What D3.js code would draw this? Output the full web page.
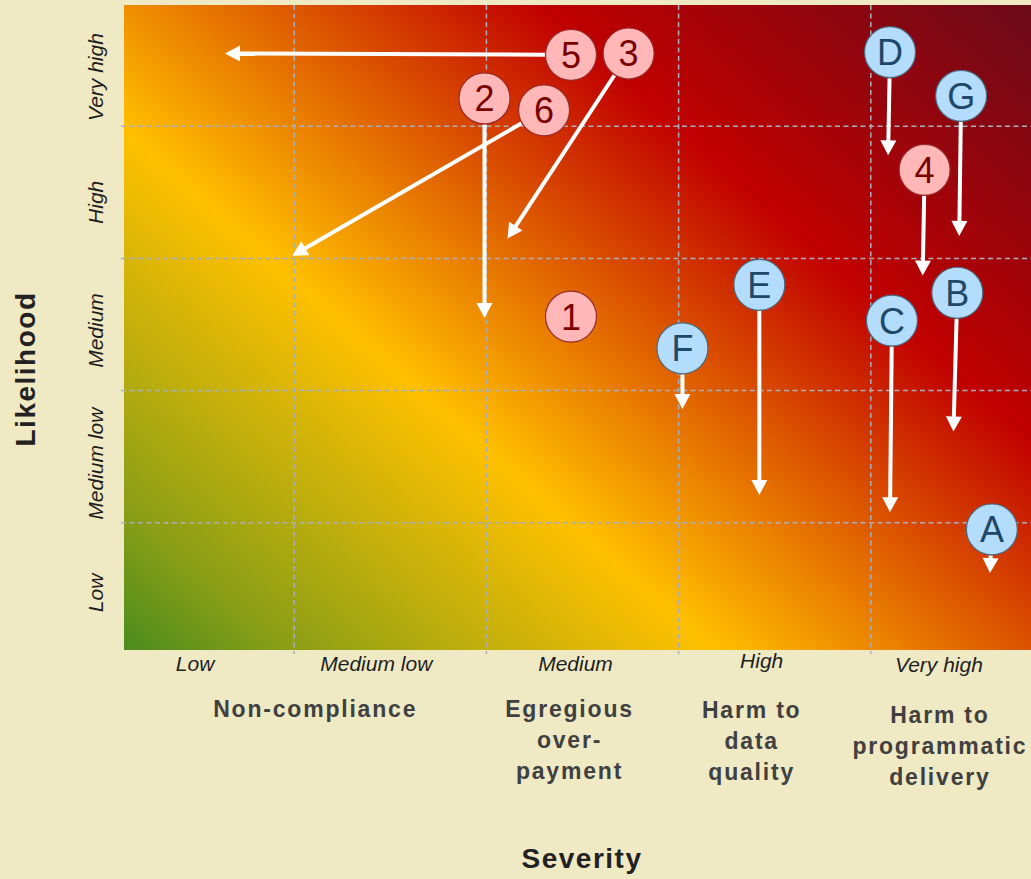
<!DOCTYPE html>
<html>
<head>
<meta charset="utf-8">
<script src="https://cdn.jsdelivr.net/npm/d3@7/dist/d3.min.js"></script>
<style>
  html, body { margin: 0; padding: 0; background: #efe9c4; }
  svg { display: block; }
  text { font-family: "Liberation Sans", Arial, Helvetica, sans-serif; }
</style>
</head>
<body>
<svg id="chart" width="1031" height="879"></svg>
<script>
// Rating levels on both axes
const severityLevels = ["Low", "Medium low", "Medium", "High", "Very high"];
const likelihoodLevels = ["Low", "Medium low", "Medium", "High", "Very high"];

// Impact groups written under the severity levels (one entry per line)
const impactGroups = [
  ["Non-compliance"],
  ["Egregious", "over-", "payment"],
  ["Harm to", "data", "quality"],
  ["Harm to", "programmatic", "delivery"]
];

// Risks: current rating and rating after mitigation (null = no movement)
const riskIds        = ["5", "3", "2", "6", "1", "4", "D", "G", "E", "F", "C", "B", "A"];
const riskKind       = ["issue", "issue", "issue", "issue", "issue", "issue",
                        "control", "control", "control", "control", "control", "control", "control"];
const severityNow    = [2.44, 2.74, 1.99, 2.30, 2.44, 4.28, 4.10, 4.47, 3.42, 3.02, 4.11, 4.45, 4.63];
const likelihoodNow  = [4.54, 4.55, 4.21, 4.12, 2.56, 3.67, 4.56, 4.23, 2.80, 2.32, 2.53, 2.74, 0.95];
const severityNext   = [0.64, 2.11, 1.99, 0.99, null, 4.27, 4.09, 4.46, 3.42, 3.02, 4.10, 4.43, 4.62];
const likelihoodNext = [4.55, 3.15, 2.55, 3.02, null, 2.87, 3.78, 3.17, 1.21, 1.86, 1.08, 1.69, 0.62];

const risks = riskIds.map((id, i) => ({
  id, kind: riskKind[i],
  sx: severityNow[i], ly: likelihoodNow[i],
  tx: severityNext[i], ty: likelihoodNext[i]
}));

const svg = d3.select("#chart");

// Continuous rating scales; the matrix is cropped to the visible panel
const x = d3.scaleLinear().domain([0, 5]).range([102, 1063]);
const y = d3.scaleLinear().domain([0, 5]).range([655, -6]);
const panel = { left: 124, right: 1031, top: 5, bottom: 650 };

// Diagonal heat gradient: green (low risk) -> yellow -> red -> dark red
const defs = svg.append("defs");
const dir = [0.661, -0.751];
const span = (panel.right - panel.left) * dir[0] + (panel.top - panel.bottom) * dir[1];
const grad = defs.append("linearGradient")
  .attr("id", "heat")
  .attr("gradientUnits", "userSpaceOnUse")
  .attr("x1", panel.left).attr("y1", panel.bottom)
  .attr("x2", panel.left + dir[0] * span).attr("y2", panel.bottom + dir[1] * span);
[
  [0, "#4a8c1e"], [0.1, "#8a9e16"], [0.2, "#b8ac0e"], [0.36, "#ffc000"],
  [0.7, "#c00000"], [1, "#6a0a1a"]
].forEach(([o, c]) => grad.append("stop").attr("offset", o).attr("stop-color", c));

svg.append("rect")
  .attr("x", panel.left).attr("y", panel.top)
  .attr("width", panel.right - panel.left).attr("height", panel.bottom - panel.top)
  .attr("fill", "url(#heat)");

// Dashed grid between rating levels
const grid = svg.append("g")
  .attr("stroke", "#a9b0ba").attr("stroke-width", 1.5).attr("stroke-dasharray", "5,3.5");
grid.selectAll("line.v").data(d3.range(1, 5)).join("line").attr("class", "v")
  .attr("x1", d => x(d)).attr("x2", d => x(d))
  .attr("y1", panel.top).attr("y2", panel.bottom + 4);
grid.selectAll("line.h").data(d3.range(1, 5)).join("line").attr("class", "h")
  .attr("y1", d => y(d)).attr("y2", d => y(d))
  .attr("x1", panel.left - 3).attr("x2", panel.right);

// Severity level labels
const sevNudge = [-3, -14, -7, -13, -28];
const sevBase = [671, 671, 671, 668, 672];
svg.append("g").selectAll("text").data(severityLevels).join("text")
  .attr("x", (d, i) => x(i + 0.5) + sevNudge[i])
  .attr("y", (d, i) => sevBase[i])
  .attr("text-anchor", "middle")
  .attr("font-size", 21).attr("font-style", "italic").attr("fill", "#1e1e1e")
  .text(d => d);

// Likelihood level labels (rotated)
const likNudge = [4, 7, 6, 10, 17];
svg.append("g").selectAll("text").data(likelihoodLevels).join("text")
  .attr("transform", (d, i) => `translate(103,${y(i + 0.5) + likNudge[i]}) rotate(-90)`)
  .attr("text-anchor", "middle")
  .attr("font-size", 21).attr("font-style", "italic").attr("fill", "#1e1e1e")
  .text(d => d);

// Impact group captions
const groupX = [x(1) + 21, x(2.5) - 13, x(3.5) - 23, x(4.5) - 27];
const groupTop = [717, 717, 718, 723];
const groups = svg.append("g")
  .attr("font-size", 23).attr("font-weight", "bold").attr("fill", "#404040")
  .attr("letter-spacing", 1.8).attr("text-anchor", "middle");
impactGroups.forEach((lines, i) => {
  const t = groups.append("text").attr("x", groupX[i]).attr("y", groupTop[i]);
  lines.forEach((ln, j) => t.append("tspan")
    .attr("x", groupX[i]).attr("dy", j === 0 ? 0 : 31).text(ln));
});

// Axis titles
svg.append("text")
  .attr("x", 582).attr("y", 868)
  .attr("text-anchor", "middle")
  .attr("font-size", 28).attr("font-weight", "bold").attr("letter-spacing", 1.5)
  .attr("fill", "#222").text("Severity");
svg.append("text")
  .attr("transform", "translate(35,369) rotate(-90)")
  .attr("text-anchor", "middle")
  .attr("font-size", 28).attr("font-weight", "bold").attr("letter-spacing", 1.5)
  .attr("fill", "#222").text("Likelihood");

// Movement arrows from current to expected rating
const R = 26, headLen = 15, headHalf = 8;
const arrows = svg.append("g");
risks.filter(d => d.tx != null).forEach(d => {
  const cx = x(d.sx), cy = y(d.ly), ex = x(d.tx), ey = y(d.ty);
  const len = Math.hypot(ex - cx, ey - cy);
  const ux = (ex - cx) / len, uy = (ey - cy) / len;
  const bx = ex - ux * headLen, by = ey - uy * headLen;
  arrows.append("line")
    .attr("x1", cx + ux * R).attr("y1", cy + uy * R)
    .attr("x2", bx + ux * 1).attr("y2", by + uy * 1)
    .attr("stroke", "#fff").attr("stroke-width", 4);
  arrows.append("polygon")
    .attr("points", [
      [ex, ey],
      [bx - uy * headHalf, by + ux * headHalf],
      [bx + uy * headHalf, by - ux * headHalf]
    ].map(p => p.join(",")).join(" "))
    .attr("fill", "#fff");
});

// Risk markers
const style = {
  issue:   { fill: "#ffb7b7", stroke: "#9a2a2a", text: "#7a0000" },
  control: { fill: "#b4dcfc", stroke: "#4a6a80", text: "#1f4868" }
};
const marks = svg.append("g").selectAll("g").data(risks).join("g")
  .attr("transform", d => `translate(${x(d.sx)},${y(d.ly)})`);
marks.append("circle")
  .attr("r", R - 0.5)
  .attr("fill", d => style[d.kind].fill)
  .attr("stroke", d => style[d.kind].stroke)
  .attr("stroke-width", 1.2);
marks.append("text")
  .attr("text-anchor", "middle").attr("dy", "0.36em")
  .attr("font-size", 36)
  .attr("fill", d => style[d.kind].text)
  .text(d => d.id);
</script>
</body>
</html>
